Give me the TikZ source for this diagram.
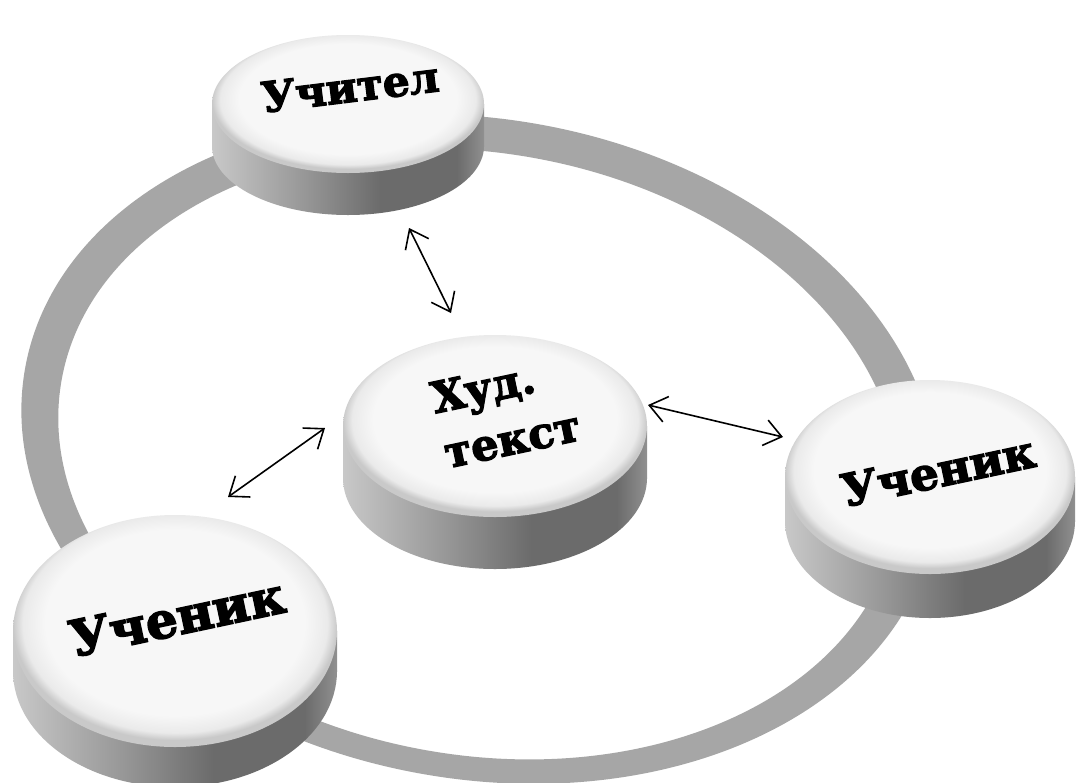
\documentclass[tikz,border=0pt]{standalone}
\usepackage{fontspec}
\usetikzlibrary{arrows.meta}
\newfontfamily\discfont{DejaVu Serif Bold}[FakeBold=3]
\definecolor{ringgray}{HTML}{A6A6A6}
\definecolor{sideA}{HTML}{C8C8C8}
\definecolor{sideB}{HTML}{979797}
\definecolor{sideC}{HTML}{6B6B6B}
\definecolor{sideD}{HTML}{909090}
\definecolor{faceW}{HTML}{F7F7F7}
\definecolor{faceM}{HTML}{EAEAEA}
\definecolor{faceE}{HTML}{C9C9C9}
\pgfdeclarehorizontalshading{discside}{100bp}{color(0bp)=(sideA); color(25bp)=(sideA); color(42bp)=(sideB); color(56bp)=(sideC); color(70bp)=(sideC); color(75bp)=(sideD); color(100bp)=(sideD)}
\pgfdeclareradialshading{discface}{\pgfpoint{0bp}{3bp}}{color(0bp)=(faceW); color(20bp)=(faceW); color(23.5bp)=(faceM); color(25bp)=(faceE); color(50bp)=(faceE)}
\newcommand\drawdisc[6]{% name, cx, cy, rx, ry, depth
  \shade[shading=discside] ({#2-#4},#3) rectangle ({#2+#4},{#3+#6});
  \shade[shading=discside] (#2,{#3+#6}) ellipse[x radius=#4, y radius=#5];
  \shade[shading=discface] (#2,#3) ellipse[x radius=#4, y radius=#5];
  \coordinate (#1) at (#2,#3);
}
\tikzset{
  arr/.style={line width=1.6pt, {Straight Barb[length=17pt,width=26pt,line width=1.6pt]}-{Straight Barb[length=17pt,width=26pt,line width=1.6pt]}},
  lbl/.style={font=\discfont\fontsize{42}{46}\selectfont, text=black, align=center, inner sep=0pt},
}
\begin{document}
\begin{tikzpicture}[x=1pt,y=-1pt]
\useasboundingbox (0,0) rectangle (1078,782);
\fill[white] (0,0) rectangle (1078,782);
% ring
\fill[ringgray, even odd rule, rotate around={-10:(480,449)}]
  (480,449) ellipse[x radius=462, y radius=330]
  (480,454) ellipse[x radius=424, y radius=301];
% discs
\drawdisc{dteacher}{348}{104}{136}{69}{42}
\drawdisc{dtext}{495}{426}{152}{91}{52}
\drawdisc{dright}{930}{477}{145}{97}{44}
\drawdisc{dleft}{175}{631}{162}{116}{40}
% labels
\node[lbl, rotate=7] (t1) at (350,87) {Учител};
\node[lbl, rotate=12, font=\discfont\fontsize{43}{47}\selectfont] (t2a) at (484,392) {Худ.};
\node[lbl, rotate=12, font=\discfont\fontsize{43}{47}\selectfont] (t2b) at (513,443) {текст};
\node[lbl, rotate=12, font=\discfont\fontsize{45}{49}\selectfont] (t3) at (938,471) {Ученик};
\node[lbl, rotate=12, font=\discfont\fontsize{50}{54}\selectfont] (t4) at (177,617) {Ученик};
% arrows
\coordinate (a1s) at (409,228);
\coordinate (a1e) at (451,313);
\coordinate (a2s) at (325,428);
\coordinate (a2e) at (228,497);
\coordinate (a3s) at (648,405);
\coordinate (a3e) at (783,437);
\draw[arr] (a1s) -- (a1e);
\draw[arr] (a2s) -- (a2e);
\draw[arr] (a3s) -- (a3e);
\end{tikzpicture}
\end{document}
